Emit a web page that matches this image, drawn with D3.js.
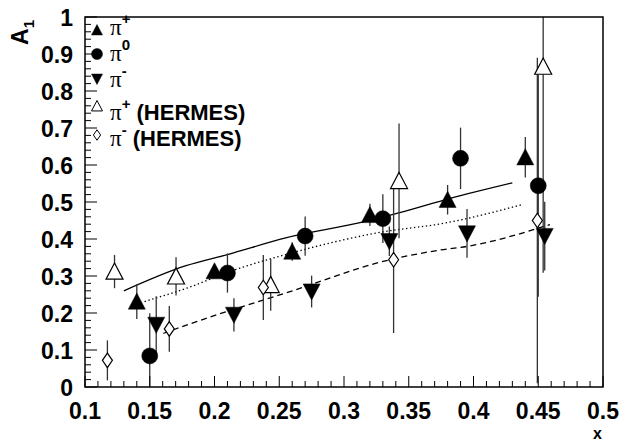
<!DOCTYPE html>
<html>
<head>
<meta charset="utf-8">
<script src="https://cdn.jsdelivr.net/npm/d3@7"></script>
<style>
  html, body { margin: 0; padding: 0; background: #fff; }
  svg { display: block; }
  .lbl { font-family: "Liberation Sans", Arial, sans-serif; font-weight: bold; }
  .pi { font-family: "Liberation Serif", "DejaVu Serif", serif; font-weight: normal; }
</style>
</head>
<body>
<svg id="chart" width="623" height="442"></svg>
<script>
// Double-spin asymmetry A1 vs x for pion production
const xTicks = [0.1, 0.15, 0.2, 0.25, 0.3, 0.35, 0.4, 0.45, 0.5];
const xTickLabels = ["0.1", "0.15", "0.2", "0.25", "0.3", "0.35", "0.4", "0.45", "0.5"];
const yTicks = [0, 0.1, 0.2, 0.3, 0.4, 0.5, 0.6, 0.7, 0.8, 0.9, 1];
const yTickLabels = ["0", "0.1", "0.2", "0.3", "0.4", "0.5", "0.6", "0.7", "0.8", "0.9", "1"];

// pi+ (filled up triangles)
const piPlusX   = [0.140, 0.200, 0.260, 0.320, 0.380, 0.440];
const piPlusY   = [0.231, 0.313, 0.366, 0.465, 0.506, 0.621];
const piPlusErr = [0.047, 0.015, 0.025, 0.030, 0.040, 0.055];

// pi0 (filled circles)
const pi0X   = [0.150, 0.210, 0.270, 0.330, 0.390, 0.450];
const pi0Y   = [0.084, 0.308, 0.408, 0.455, 0.618, 0.544];
const pi0Err = [0.115, 0.053, 0.053, 0.066, 0.083, 0.300];

// pi- (filled down triangles)
const piMinusX   = [0.155, 0.215, 0.275, 0.335, 0.395, 0.455];
const piMinusY   = [0.168, 0.195, 0.258, 0.394, 0.415, 0.408];
const piMinusErr = [0.077, 0.045, 0.043, 0.040, 0.066, 0.093];

// pi+ (HERMES, open triangles)
const hermesPlusX   = [0.1228, 0.1703, 0.2434, 0.3425, 0.4538];
const hermesPlusY   = [0.312, 0.299, 0.276, 0.557, 0.866];
const hermesPlusErr = [0.045, 0.052, 0.070, 0.155, 0.557];

// pi- (HERMES, open diamonds)
const hermesMinusX   = [0.1173, 0.1651, 0.2377, 0.3383, 0.4493];
const hermesMinusY   = [0.072, 0.157, 0.269, 0.344, 0.450];
const hermesMinusErr = [0.054, 0.062, 0.088, 0.198, 0.440];

// model curves
const solidX  = [0.130, 0.178, 0.210, 0.255, 0.315, 0.343, 0.382, 0.430];
const solidY  = [0.260, 0.328, 0.358, 0.403, 0.446, 0.471, 0.510, 0.552];
const dottedX = [0.146, 0.1785, 0.216, 0.255, 0.328, 0.378, 0.4385];
const dottedY = [0.231, 0.267, 0.317, 0.358, 0.418, 0.443, 0.494];
const dashedX = [0.1605, 0.1914, 0.255, 0.3355, 0.374, 0.395, 0.459];
const dashedY = [0.145, 0.183, 0.254, 0.344, 0.370, 0.380, 0.439];

const svg = d3.select("#chart");
const L = 85, R = 603, T = 17, B = 387;

const x = d3.scaleLinear().domain([0.1, 0.5]).range([L, R]);
const y = d3.scaleLinear().domain([0, 1]).range([B, T]);

svg.append("defs").append("clipPath").attr("id", "frame")
  .append("rect").attr("x", L).attr("y", T).attr("width", R - L).attr("height", B - T);

const plot = svg.append("g").attr("clip-path", "url(#frame)");

// curves
const line = d3.line().x(d => x(d[0])).y(d => y(d[1])).curve(d3.curveMonotoneX);
const curves = [
  { xs: solidX, ys: solidY, dash: null },
  { xs: dottedX, ys: dottedY, dash: "1.4,2.6" },
  { xs: dashedX, ys: dashedY, dash: "6,4" }
];
curves.forEach(c => {
  plot.append("path")
    .attr("d", line(d3.zip(c.xs, c.ys)))
    .attr("fill", "none").attr("stroke", "#000").attr("stroke-width", 1.3)
    .attr("stroke-dasharray", c.dash);
});

const series = [
  { xs: piPlusX, ys: piPlusY, es: piPlusErr, shape: "up", fill: "#000" },
  { xs: pi0X, ys: pi0Y, es: pi0Err, shape: "circle", fill: "#000" },
  { xs: piMinusX, ys: piMinusY, es: piMinusErr, shape: "down", fill: "#000" },
  { xs: hermesPlusX, ys: hermesPlusY, es: hermesPlusErr, shape: "up", fill: "#fff" },
  { xs: hermesMinusX, ys: hermesMinusY, es: hermesMinusErr, shape: "diamond", fill: "#fff" }
];

// error bars
series.forEach(s => {
  plot.append("g").selectAll("line")
    .data(d3.range(s.xs.length)).join("line")
    .attr("x1", i => x(s.xs[i])).attr("x2", i => x(s.xs[i]))
    .attr("y1", i => y(s.ys[i] - s.es[i])).attr("y2", i => y(s.ys[i] + s.es[i]))
    .attr("stroke", "#333").attr("stroke-width", 1.3);
});

function markerPath(shape, r) {
  if (shape === "up") return `M0,${-r}L${r},${r * 0.9}L${-r},${r * 0.9}Z`;
  if (shape === "down") return `M0,${r}L${r},${-r * 0.9}L${-r},${-r * 0.9}Z`;
  if (shape === "diamond") return `M0,${-r * 1.45}L${r},0L0,${r * 1.45}L${-r},0Z`;
  return d3.arc()({ innerRadius: 0, outerRadius: r, startAngle: 0, endAngle: 2 * Math.PI });
}
const markerSize = { up: 8.5, down: 8.5, circle: 8, diamond: 5 };

series.forEach(s => {
  plot.append("g").selectAll("path")
    .data(d3.range(s.xs.length)).join("path")
    .attr("transform", i => `translate(${x(s.xs[i])},${y(s.ys[i])})`)
    .attr("d", markerPath(s.shape, markerSize[s.shape]))
    .attr("fill", s.fill).attr("stroke", "#000").attr("stroke-width", s.fill === "#000" ? 0.5 : 1.2);
});

// frame
svg.append("rect").attr("x", L).attr("y", T).attr("width", R - L).attr("height", B - T)
  .attr("fill", "none").attr("stroke", "#000").attr("stroke-width", 1.5);

// y axis ticks (inside)
const yMinor = d3.range(0, 1.0001, 0.02);
svg.append("g").selectAll("line").data(yMinor).join("line")
  .attr("x1", L).attr("x2", (d, i) => L + (i % 5 === 0 ? 12 : 6))
  .attr("y1", d => y(d)).attr("y2", d => y(d))
  .attr("stroke", "#000").attr("stroke-width", 1);
svg.append("g").selectAll("text").data(yTicks).join("text")
  .attr("class", "lbl").attr("x", L - 12).attr("y", d => y(d) + 9)
  .attr("text-anchor", "end").attr("font-size", 23)
  .text((d, i) => yTickLabels[i]);

// x axis ticks (inside)
const xMinor = d3.range(0.1, 0.5001, 0.01);
svg.append("g").selectAll("line").data(xMinor).join("line")
  .attr("x1", d => x(d)).attr("x2", d => x(d))
  .attr("y1", B).attr("y2", (d, i) => B - (i % 5 === 0 ? 11 : 6))
  .attr("stroke", "#000").attr("stroke-width", 1);
svg.append("g").selectAll("text").data(xTicks).join("text")
  .attr("class", "lbl").attr("x", d => x(d)).attr("y", 419)
  .attr("text-anchor", "middle").attr("font-size", 23)
  .text((d, i) => xTickLabels[i]);

// axis titles
svg.append("text").attr("class", "lbl").attr("x", R - 1).attr("y", 438.5)
  .attr("text-anchor", "end").attr("font-size", 16).text("x");
const yt = svg.append("text").attr("class", "lbl")
  .attr("transform", "translate(28,20) rotate(-90)")
  .attr("text-anchor", "end").attr("font-size", 23);
yt.append("tspan").text("A");
yt.append("tspan").attr("font-size", 15).attr("dy", 6).text("1");

// legend
const legendRows = [
  { shape: "up", fill: "#000", sup: "+", extra: "", my: 30, ty: 35 },
  { shape: "circle", fill: "#000", sup: "0", extra: "", my: 54, ty: 61 },
  { shape: "down", fill: "#000", sup: "-", extra: "", my: 79, ty: 87 },
  { shape: "up", fill: "#fff", sup: "+", extra: " (HERMES)", my: 106, ty: 120 },
  { shape: "diamond", fill: "#fff", sup: "-", extra: " (HERMES)", my: 135, ty: 146 }
];
const leg = svg.append("g");
legendRows.forEach(r => {
  const sz = r.shape === "diamond" ? 3.6 : 5.5;
  leg.append("path").attr("transform", `translate(97,${r.my})`)
    .attr("d", markerPath(r.shape, sz))
    .attr("fill", r.fill).attr("stroke", "#000").attr("stroke-width", r.fill === "#000" ? 0.5 : 1);
  const t = leg.append("text").attr("x", 110).attr("y", r.ty);
  t.append("tspan").attr("class", "pi").attr("font-size", 23).text("π");
  t.append("tspan").attr("class", "lbl").attr("font-size", 15).attr("dy", -11).text(r.sup);
  if (r.extra) t.append("tspan").attr("class", "lbl").attr("font-size", 22).attr("dy", 11).text(r.extra);
});
</script>
</body>
</html>
